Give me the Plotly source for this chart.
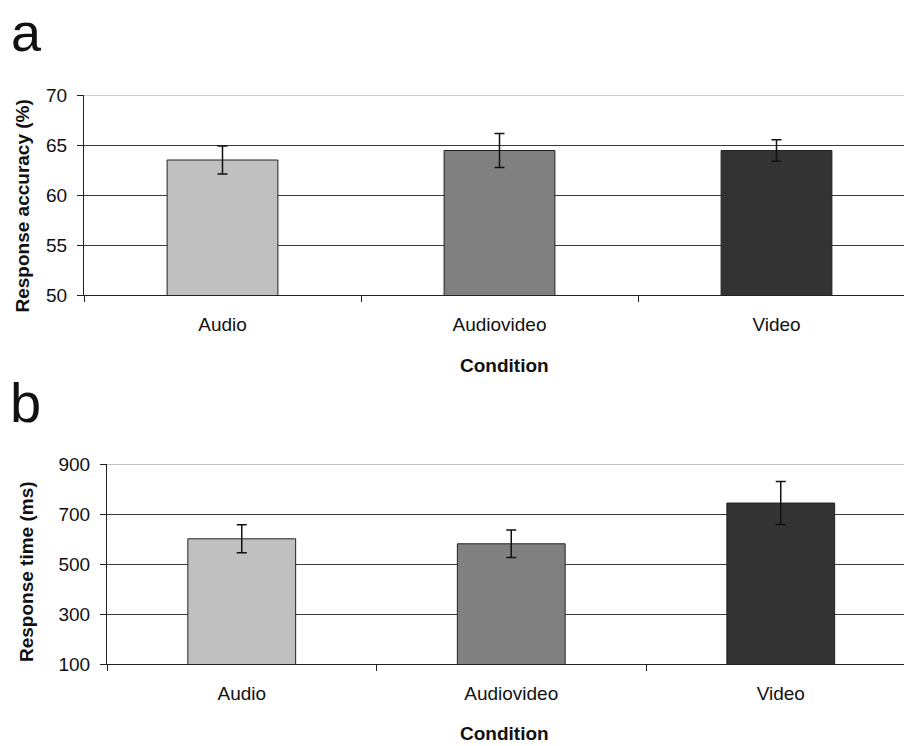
import plotly.graph_objects as go

conditions = ["Audio", "Audiovideo", "Video"]
bar_colors = ["#c0c0c0", "#808080", "#333333"]

accuracy = [63.5, 64.45, 64.45]
accuracy_err = [1.4, 1.7, 1.07]

rt = [602, 582, 745]
rt_err = [56, 55, 86]

W, H = 904, 746
FONT = "Liberation Sans, Arial, sans-serif"
FS = 19


def px(x):
    return x / W


def py(y):
    return 1 - y / H


fig = go.Figure()

fig.add_trace(go.Bar(
    x=conditions, y=accuracy, width=0.4,
    marker=dict(color=bar_colors, line=dict(color="#222222", width=1)),
    error_y=dict(type="data", array=accuracy_err, visible=True,
                 color="#111111", thickness=1.5, width=5),
    xaxis="x", yaxis="y", showlegend=False, hoverinfo="skip",
))
fig.add_trace(go.Bar(
    x=conditions, y=rt, width=0.4,
    marker=dict(color=bar_colors, line=dict(color="#222222", width=1)),
    error_y=dict(type="data", array=rt_err, visible=True,
                 color="#111111", thickness=1.5, width=5),
    xaxis="x2", yaxis="y2", showlegend=False, hoverinfo="skip",
))

common_x = dict(
    type="category", showline=True, linecolor="#222222", linewidth=1,
    ticks="outside", ticklen=6, tickcolor="#222222", tickson="boundaries",
    showgrid=False, tickfont=dict(family=FONT, size=FS, color="#111111"),
    ticklabelstandoff=12, fixedrange=True, automargin=False,
)
common_y = dict(
    showline=True, linecolor="#222222", linewidth=1,
    ticks="outside", ticklen=6, tickcolor="#222222",
    showgrid=True, gridcolor="#3a3a3a", gridwidth=1, zeroline=False,
    tickfont=dict(family=FONT, size=FS, color="#111111"),
    ticklabelstandoff=6, fixedrange=True, automargin=False,
)

a_left, b_left = 84, 107
a_cat, b_cat = 277, 269.5
a_r = (W - a_left) / a_cat - 0.5
b_r = (W - b_left) / b_cat - 0.5

fig.update_layout(
    width=W, height=H, autosize=False,
    margin=dict(l=0, r=0, t=0, b=0, pad=0),
    paper_bgcolor="white", plot_bgcolor="white",
    bargap=0.6,
    xaxis=dict(**common_x, domain=[px(a_left), 1], range=[-0.5, a_r], anchor="y"),
    yaxis=dict(**common_y, domain=[py(295), py(95)], range=[50, 70],
               tickvals=[50, 55, 60, 65, 70], anchor="x"),
    xaxis2=dict(**common_x, domain=[px(b_left), 1], range=[-0.5, b_r], anchor="y2"),
    yaxis2=dict(**common_y, domain=[py(664.3), py(464.3)], range=[100, 900],
                tickvals=[100, 300, 500, 700, 900], anchor="x2"),
)

fig.add_shape(type="line", xref="x domain", yref="y", x0=0, x1=1, y0=70, y1=70,
              line=dict(color="#9a9a9a", width=1), layer="above")
fig.add_shape(type="line", xref="x2 domain", yref="y2", x0=0, x1=1, y0=900, y1=900,
              line=dict(color="#9a9a9a", width=1), layer="above")

ann = []
ann.append(dict(text="a", x=px(9), y=1, xref="paper", yref="paper",
                xanchor="left", yanchor="top", showarrow=False,
                font=dict(family=FONT, size=54, color="#111111")))
ann.append(dict(text="b", x=px(8), y=py(436), xref="paper", yref="paper",
                xanchor="left", yanchor="bottom", showarrow=False,
                font=dict(family=FONT, size=56, color="#111111")))
ann.append(dict(text="<b>Response accuracy (%)</b>", x=px(22.5), y=py(206),
                xref="paper", yref="paper", textangle=-90, showarrow=False,
                xanchor="center", yanchor="middle",
                font=dict(family=FONT, size=FS, color="#111111")))
ann.append(dict(text="<b>Response time (ms)</b>", x=px(26.5), y=py(571.5),
                xref="paper", yref="paper", textangle=-90, showarrow=False,
                xanchor="center", yanchor="middle",
                font=dict(family=FONT, size=FS, color="#111111")))
ann.append(dict(text="<b>Condition</b>", x=px(504.5), y=py(365),
                xref="paper", yref="paper", showarrow=False,
                xanchor="center", yanchor="middle",
                font=dict(family=FONT, size=FS, color="#111111")))
ann.append(dict(text="<b>Condition</b>", x=px(504.5), y=py(733),
                xref="paper", yref="paper", showarrow=False,
                xanchor="center", yanchor="middle",
                font=dict(family=FONT, size=FS, color="#111111")))
fig.update_layout(annotations=ann)

post = (
    "document.body.style.margin='0';"
    "document.body.style.overflow='hidden';"
    "var d=document.getElementById('{plot_id}');"
    "d.style.position='absolute';d.style.left='0px';d.style.top='0px';"
)

fig.write_html("out.html", post_script=post, config={"displayModeBar": False})
